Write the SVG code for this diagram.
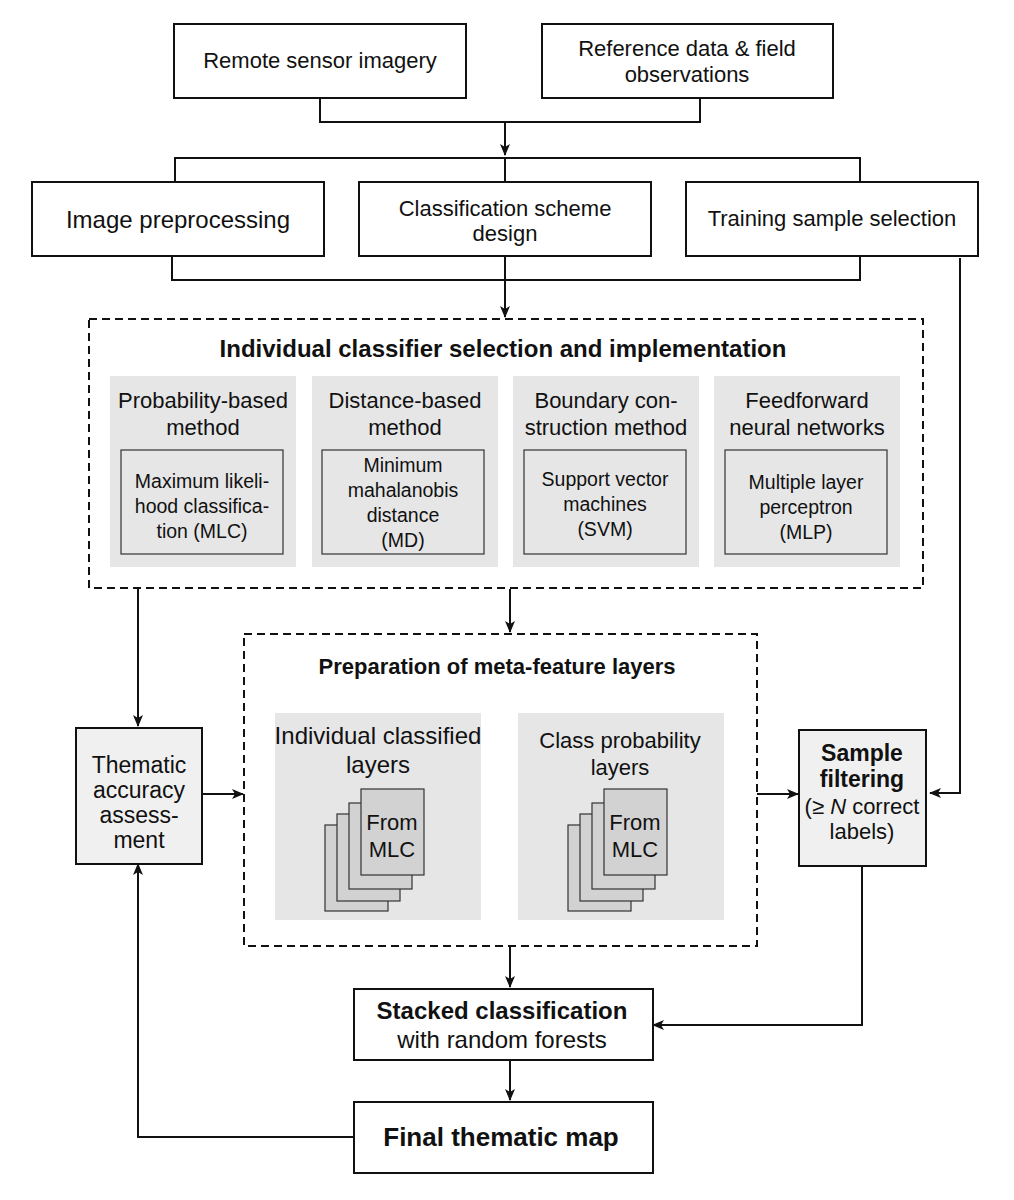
<svg xmlns="http://www.w3.org/2000/svg" width="1014" height="1200" viewBox="0 0 1014 1200">
<defs>
<marker id="ah" markerWidth="12" markerHeight="10" refX="11" refY="5" orient="auto" markerUnits="userSpaceOnUse"><path d="M0,0 L12,5 L0,10 L3,5 Z" fill="#111"/></marker>
<style>
text{font-family:"Liberation Sans",Arial,sans-serif;fill:#111;text-anchor:middle}
.box{fill:#fff;stroke:#111;stroke-width:2}
.gbox{fill:#f0f0f0;stroke:#111;stroke-width:2}
.dash{fill:none;stroke:#111;stroke-width:2;stroke-dasharray:8,5}
.panel{fill:#e6e6e6}
.inner{fill:none;stroke:#333;stroke-width:1.2}
.pg{fill:#d2d2d2;stroke:#333;stroke-width:1.2}
.c{fill:none;stroke:#111;stroke-width:2}
.t20{font-size:22px}.t22{font-size:24px}.t18{font-size:19.5px}.t23{font-size:23px}
.b{font-weight:bold}
</style>
</defs>
<rect width="1014" height="1200" fill="#fff"/>
<g id="connectors">
<path class="c" d="M320,98 V122 H700 V98"/>
<path class="c" d="M505,122 V155" marker-end="url(#ah)"/>
<path class="c" d="M175,182 V158 H860 V182"/>
<path class="c" d="M505,158 V182"/>
<path class="c" d="M172,256 V280 H860 V256"/>
<path class="c" d="M505,256 V317" marker-end="url(#ah)"/>
<path class="c" d="M960,258 V793 H930" marker-end="url(#ah)"/>
<path class="c" d="M138,589 V726" marker-end="url(#ah)"/>
<path class="c" d="M510,589 V632" marker-end="url(#ah)"/>
<path class="c" d="M202,794 H243" marker-end="url(#ah)"/>
<path class="c" d="M757,794 H798" marker-end="url(#ah)"/>
<path class="c" d="M510,947 V987" marker-end="url(#ah)"/>
<path class="c" d="M862,866 V1025 H653" marker-end="url(#ah)"/>
<path class="c" d="M510,1060 V1100" marker-end="url(#ah)"/>
<path class="c" d="M354,1137 H138 V864" marker-end="url(#ah)"/>
</g>
<g id="remote"><rect class="box" x="174" y="24" width="292" height="74"/><text class="t20" x="320" y="68">Remote sensor imagery</text></g>
<g id="reference"><rect class="box" x="542" y="24" width="291" height="74"/><text class="t20" x="687" y="56">Reference data &amp; field</text><text class="t20" x="687" y="82">observations</text></g>
<g id="preproc"><rect class="box" x="32" y="182" width="292" height="74"/><text class="t22" x="178" y="228">Image preprocessing</text></g>
<g id="scheme"><rect class="box" x="359" y="182" width="292" height="74"/><text class="t20" x="505" y="216">Classification scheme</text><text class="t20" x="505" y="241">design</text></g>
<g id="training"><rect class="box" x="686" y="182" width="292" height="74"/><text class="t20" x="832" y="226">Training sample selection</text></g>
<g id="individual">
<rect class="dash" x="89" y="319" width="834" height="269"/>
<text class="t22 b" x="503" y="357">Individual classifier selection and implementation</text>
<rect class="panel" x="110" y="376" width="186" height="191"/>
<text class="t20" x="203" y="408">Probability-based</text><text class="t20" x="203" y="435">method</text>
<rect class="inner" x="121" y="450" width="162" height="104"/>
<text class="t18" x="202" y="488">Maximum likeli-</text><text class="t18" x="202" y="513">hood classifica-</text><text class="t18" x="202" y="538">tion (MLC)</text>
<rect class="panel" x="312" y="376" width="186" height="191"/>
<text class="t20" x="405" y="408">Distance-based</text><text class="t20" x="405" y="435">method</text>
<rect class="inner" x="322" y="450" width="162" height="104"/>
<text class="t18" x="403" y="472">Minimum</text><text class="t18" x="403" y="497">mahalanobis</text><text class="t18" x="403" y="522">distance</text><text class="t18" x="403" y="547">(MD)</text>
<rect class="panel" x="513" y="376" width="186" height="191"/>
<text class="t20" x="606" y="408">Boundary con-</text><text class="t20" x="606" y="435">struction method</text>
<rect class="inner" x="524" y="450" width="162" height="104"/>
<text class="t18" x="605" y="486">Support vector</text><text class="t18" x="605" y="511">machines</text><text class="t18" x="605" y="536">(SVM)</text>
<rect class="panel" x="714" y="376" width="186" height="191"/>
<text class="t20" x="807" y="408">Feedforward</text><text class="t20" x="807" y="435">neural networks</text>
<rect class="inner" x="725" y="450" width="162" height="104"/>
<text class="t18" x="806" y="489">Multiple layer</text><text class="t18" x="806" y="514">perceptron</text><text class="t18" x="806" y="539">(MLP)</text>
</g>
<g id="meta">
<rect class="dash" x="244" y="634" width="513" height="312"/>
<text class="t20 b" x="497" y="674" font-size="21">Preparation of meta-feature layers</text>
<rect class="panel" x="275" y="713" width="206" height="207"/>
<text class="t22" x="378" y="744">Individual classified</text><text class="t22" x="378" y="773">layers</text>
<rect class="pg" x="325" y="825" width="63" height="86"/><rect class="pg" x="337" y="814" width="63" height="87"/><rect class="pg" x="349" y="803" width="63" height="86"/><rect class="pg" x="361" y="789" width="63" height="86"/>
<text class="t20" x="392" y="830">From</text><text class="t20" x="392" y="857">MLC</text>
<rect class="panel" x="518" y="713" width="206" height="207"/>
<text class="t20" x="620" y="748">Class probability</text><text class="t20" x="620" y="775">layers</text>
<rect class="pg" x="568" y="825" width="63" height="86"/><rect class="pg" x="580" y="814" width="63" height="87"/><rect class="pg" x="592" y="803" width="63" height="86"/><rect class="pg" x="604" y="789" width="63" height="86"/>
<text class="t20" x="635" y="830">From</text><text class="t20" x="635" y="857">MLC</text>
</g>
<g id="thematic"><rect class="gbox" x="76" y="728" width="126" height="136"/><text class="t23" x="139" y="773">Thematic</text><text class="t23" x="139" y="798">accuracy</text><text class="t23" x="139" y="823">assess-</text><text class="t23" x="139" y="848">ment</text></g>
<g id="filtering"><rect class="gbox" x="799" y="730" width="127" height="136"/><text class="t23 b" x="862" y="761">Sample</text><text class="t23 b" x="862" y="787">filtering</text><text class="t20" x="862" y="814">(≥ <tspan font-style="italic">N</tspan> correct</text><text class="t20" x="862" y="839">labels)</text></g>
<g id="stacked"><rect class="box" x="354" y="989" width="299" height="71"/><text class="t22 b" x="502" y="1019">Stacked classification</text><text class="t22" x="502" y="1048">with random forests</text></g>
<g id="final"><rect class="box" x="354" y="1102" width="299" height="71"/><text class="b" x="501" y="1146" font-size="26">Final thematic map</text></g>
</svg>
